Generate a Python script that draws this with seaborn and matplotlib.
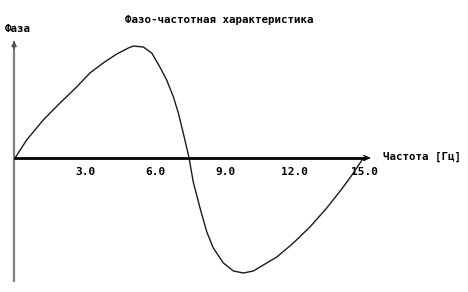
import matplotlib
matplotlib.use("Agg")
import matplotlib.pyplot as plt
import seaborn as sns
import pandas as pd

freq = [0, 0.50, 1.21, 1.93, 2.64, 3.21, 3.78, 4.36, 4.86, 5.07, 5.50, 5.86, 6.21,
        6.50, 6.79, 7.00, 7.21, 7.46, 7.64, 7.93, 8.22, 8.50, 8.93, 9.36, 9.79,
        10.21, 10.79, 11.22, 11.93, 12.64, 13.36, 14.07, 14.50, 14.93]
phase = [0, 0.18, 0.38, 0.55, 0.71, 0.85, 0.95, 1.04, 1.10, 1.12, 1.11, 1.05, 0.91,
         0.78, 0.61, 0.45, 0.25, 0, -0.24, -0.50, -0.74, -0.90, -1.05, -1.13, -1.15,
         -1.13, -1.05, -0.99, -0.85, -0.69, -0.50, -0.29, -0.15, 0]
xticks = [3, 6, 9, 12, 15]
xticklabels = ["3.0", "6.0", "9.0", "12.0", "15.0"]
title = "Фазо-частотная характеристика"
xlabel = "Частота [Гц]"
ylabel = "Фаза"

sns.set_theme(style="white")
plt.rcParams['font.family'] = ['DejaVu Sans Mono', 'DejaVu Sans']
plt.rcParams['font.weight'] = 'bold'

W, H = 468, 292
fig = plt.figure(figsize=(W / 100, H / 100), dpi=100)
fig.patch.set_facecolor("white")

x0, x1 = 15, 365
ytop_px, ybot_px, yzero_px = 42, 281, 158
ax = fig.add_axes([x0 / W, (H - ybot_px) / H, (x1 - x0) / W, (ybot_px - ytop_px) / H])
ax.set_xlim(0, 15)
ax.set_ylim(-(ybot_px - yzero_px) / 100, (yzero_px - ytop_px) / 100)
ax.set_facecolor("white")

df = pd.DataFrame({"freq": freq, "phase": phase})
sns.lineplot(data=df, x="freq", y="phase", ax=ax, color="#1a1a1a", linewidth=1.0,
             sort=False, estimator=None)

for s in ["top", "right"]:
    ax.spines[s].set_visible(False)
ax.spines["left"].set_color("#808080")
ax.spines["left"].set_linewidth(1.6)
ax.spines["left"].set_position(("data", -0.04))
ax.spines["bottom"].set_position(("data", 0))
ax.spines["bottom"].set_color("black")
ax.spines["bottom"].set_linewidth(2.0)

ax.set_xticks(xticks)
ax.set_xticklabels(xticklabels)
ax.tick_params(axis="x", direction="inout", length=7, width=1, color="black", pad=3,
               labelsize=8.0, labelcolor="black")
ax.set_yticks([])
ax.set_xlabel("")
ax.set_ylabel("")
for lab in ax.get_xticklabels():
    lab.set_fontweight("bold")

# arrow heads
ymax = ax.get_ylim()[1]
ax.annotate("", xy=(-0.04, ymax + 0.04), xytext=(-0.04, ymax - 0.1),
            arrowprops=dict(arrowstyle="-|>", color="#555555", lw=1.2, mutation_scale=7),
            annotation_clip=False)
ax.annotate("", xy=(15.35, 0), xytext=(15.0, 0),
            arrowprops=dict(arrowstyle="->", color="black", lw=1.0, mutation_scale=9),
            annotation_clip=False)

fig.text(219 / W, 1 - 20 / H, title, ha="center", va="center", fontsize=7.8,
         fontweight="bold", color="black")
fig.text(5 / W, 1 - 29 / H, ylabel, ha="left", va="center", fontsize=7.8,
         fontweight="bold", color="black")
fig.text(383 / W, 1 - 157 / H, xlabel, ha="left", va="center", fontsize=7.8,
         fontweight="bold", color="black")

fig.savefig("out.png", dpi=100, facecolor="white")
